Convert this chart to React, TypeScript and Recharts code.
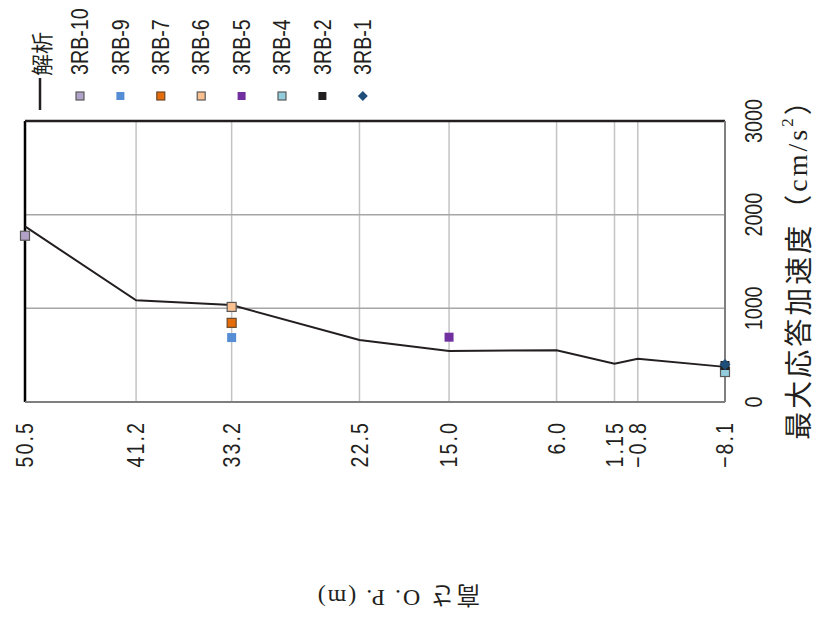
import React from 'react';
import {
  ComposedChart,
  Line,
  Scatter,
  XAxis,
  YAxis,
  CartesianGrid,
  ReferenceLine,
} from 'recharts';

// heights O.P. (m), left to right
const heights = [50.5, 41.2, 33.2, 22.5, 15.0, 6.0, 1.15, -0.8, -8.1];
const heightLabels = ['50.5', '41.2', '33.2', '22.5', '15.0', '6.0', '1.15', '−0.8', '−8.1'];
// 解析 (analysis) max response acceleration at each height
const analysisValues = [1875, 1085, 1035, 662, 545, 553, 408, 462, 375];
const accelTicks = [0, 1000, 2000, 3000];

// observed records
const obsNames = ['3RB-10', '3RB-9', '3RB-7', '3RB-6', '3RB-5', '3RB-4', '3RB-2', '3RB-1'];
const obsHeights = [50.5, 33.2, 33.2, 33.2, 15.0, -8.1, -8.1, -8.1];
const obsValues = [1775, 688, 845, 1015, 692, 320, 390, 400];
const obsFill = ['#b3a2c7', '#558ed5', '#e46c0a', '#fac090', '#7030a0', '#93cddd', '#231f20', '#1f4e79'];
const obsStroke = ['#595959', 'none', '#6b4a2a', '#595959', 'none', '#595959', 'none', 'none'];
const obsShape = ['square', 'square', 'square', 'square', 'square', 'square', 'square', 'diamond'];

const W = 821;
const H = 619;
const FONT = "'Liberation Sans', Arial, sans-serif";
const SERIF = "'Liberation Serif', 'Noto Sans CJK JP', serif";
const CJK = "'Noto Sans CJK JP', sans-serif";
const SQUEEZE = 0.82; // narrow look of the original labels

const lineData = heights.map((h, i) => ({ h, v: analysisValues[i] }));

const Marker = ({ cx, cy, kind, fill, stroke, size = 9 }: any) => {
  if (kind === 'diamond') {
    const r = size / 2 + 1;
    return (
      <path d={`M${cx},${cy - r}L${cx + r},${cy}L${cx},${cy + r}L${cx - r},${cy}Z`} fill={fill} />
    );
  }
  return (
    <rect
      x={cx - size / 2}
      y={cy - size / 2}
      width={size}
      height={size}
      fill={fill}
      stroke={stroke}
      strokeWidth={stroke === 'none' ? 0 : 1.2}
    />
  );
};

// text turned to read bottom-to-top, slightly condensed
const UpText = ({ x, y, anchor, size = 24, family = FONT, spacing = 0, children }: any) => (
  <text
    transform={`translate(${x} ${y}) rotate(-90) scale(${SQUEEZE} 1)`}
    textAnchor={anchor}
    dominantBaseline="central"
    fontFamily={family}
    fontSize={size}
    fill="#231f20"
    letterSpacing={spacing}
  >
    {children}
  </text>
);

const HeightTick = ({ x, y, payload }: any) => {
  const idx = heights.indexOf(payload.value);
  const label = idx >= 0 ? heightLabels[idx] : String(payload.value);
  return (
    <UpText x={x} y={y + 11} anchor="end" spacing={2.5}>
      {label}
    </UpText>
  );
};

const AccelTick = ({ x, y, payload }: any) => (
  <UpText x={x + 21} y={y} anchor="middle">
    {payload.value}
  </UpText>
);

const Overlay: React.FC = () => {
  const legendX0 = 80;
  const legendStep = 40.4;
  return (
    <svg width={W} height={H} style={{ position: 'absolute', left: 0, top: 0, pointerEvents: 'none' }}>
      {/* legend: 解析 */}
      <line x1={40} y1={78} x2={40} y2={110} stroke="#231f20" strokeWidth={2.5} />
      <text
        x={40}
        y={76}
        transform="rotate(-90 40 76)"
        textAnchor="start"
        dominantBaseline="central"
        fontFamily={CJK}
        fontSize={22}
        fill="#231f20"
      >
        解析
      </text>
      {obsNames.map((name, i) => {
        const lx = legendX0 + i * legendStep;
        return (
          <g key={name}>
            <Marker cx={lx} cy={96} kind={obsShape[i]} fill={obsFill[i]} stroke={obsStroke[i]} size={8} />
            <UpText x={lx} y={75} anchor="start">
              {name}
            </UpText>
          </g>
        );
      })}
      {/* acceleration axis title */}
      <text
        x={797}
        y={262}
        transform="rotate(-90 797 262)"
        textAnchor="middle"
        dominantBaseline="central"
        fontFamily={SERIF}
        fontSize={28}
        fill="#231f20"
        letterSpacing={3}
      >
        <tspan fontFamily={CJK}>最大応答加速度（</tspan>
        <tspan>cm/s</tspan>
        <tspan fontSize={17} dy={-10}>2</tspan>
        <tspan fontFamily={CJK} dy={10}>）</tspan>
      </text>
      {/* height axis title (upside down) */}
      <text
        x={398}
        y={598}
        transform="rotate(180 398 598)"
        textAnchor="middle"
        dominantBaseline="central"
        fontFamily={SERIF}
        fontSize={24}
        fill="#231f20"
        letterSpacing={2}
      >
        <tspan fontFamily={CJK}>高さ</tspan>
        <tspan> O. P. (m)</tspan>
      </text>
    </svg>
  );
};

export default function App() {
  return (
    <div style={{ position: 'absolute', left: 0, top: 0, width: W, height: H, background: '#fff' }}>
      <ComposedChart
        width={W}
        height={H}
        data={lineData}
        margin={{ top: 121, left: 25, right: 36, bottom: 157 }}
      >
        <CartesianGrid horizontal={false} stroke="#c4c4c4" strokeWidth={1.5} />
        <CartesianGrid vertical={false} stroke="#a6a6a6" strokeWidth={1.5} />
        <XAxis
          type="number"
          dataKey="h"
          domain={[-8.1, 50.5]}
          ticks={heights}
          reversed
          interval={0}
          height={60}
          tickLine={false}
          axisLine={{ stroke: '#7f7f7f', strokeWidth: 2 }}
          tick={<HeightTick />}
        />
        <YAxis
          type="number"
          dataKey="v"
          orientation="right"
          domain={[0, 3000]}
          ticks={accelTicks}
          width={60}
          tickLine={false}
          axisLine={{ stroke: '#7f7f7f', strokeWidth: 2 }}
          tick={<AccelTick />}
        />
        <ReferenceLine x={50.5} stroke="#000" strokeWidth={2.5} />
        <ReferenceLine y={3000} stroke="#231f20" strokeWidth={2.5} />
        <Line
          dataKey="v"
          stroke="#231f20"
          strokeWidth={2}
          dot={false}
          isAnimationActive={false}
        />
        {obsNames.map((name, i) => (
          <Scatter
            key={name}
            name={name}
            data={[{ h: obsHeights[i], v: obsValues[i] }]}
            isAnimationActive={false}
            shape={(p: any) => (
              <Marker cx={p.cx} cy={p.cy} kind={obsShape[i]} fill={obsFill[i]} stroke={obsStroke[i]} />
            )}
          />
        ))}
      </ComposedChart>
      <Overlay />
    </div>
  );
}
